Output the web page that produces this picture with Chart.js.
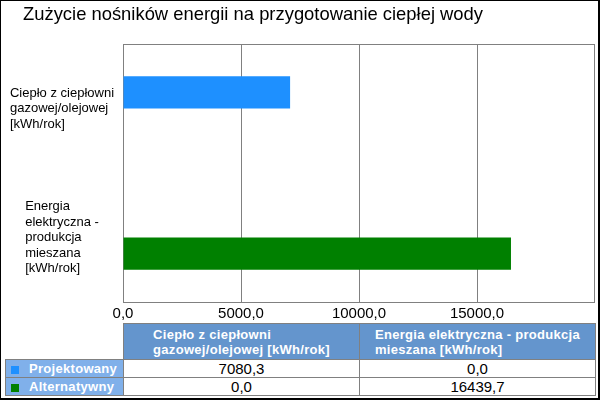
<!DOCTYPE html>
<html>
<head>
<meta charset="utf-8">
<script src="https://cdn.jsdelivr.net/npm/chart.js@4/dist/chart.umd.min.js"></script>
<style>
  html, body { margin: 0; padding: 0; background: #fff; }
  #wrap { position: relative; width: 600px; height: 400px; overflow: hidden; }
  #chartBox { position: absolute; left: 0; top: 0; width: 600px; height: 322px; }
  #frame { position: absolute; left: 0; top: 0; width: 600px; height: 400px; box-sizing: border-box;
           border-style: solid; border-color: #000; border-width: 1px 2px 2px 1px; pointer-events: none; }
  #dataTable { position: absolute; left: 5px; top: 323px; border-collapse: collapse; table-layout: fixed; }
  #dataTable td, #dataTable th { border: 1px solid #808080; padding: 0; }
  #dataTable th { background: #6495cd; color: #fff; font: bold 13px "Liberation Sans", Arial, sans-serif;
                  letter-spacing: 0.3px; height: 35px; line-height: 15px; text-align: center; }
  #dataTable th span { display: inline-block; text-align: left; }
  #dataTable th.empty { background: #fff; border: none; }
  #dataTable td { height: 17px; text-align: center; font: 15px "Liberation Sans Narrow", "Liberation Sans", sans-serif; line-height: 17px; }
  #dataTable td.rowHead { background: #80b0ea; color: #fff; text-align: left; font: bold 13px "Liberation Sans", Arial, sans-serif;
                          letter-spacing: 0.3px; padding-left: 5px; }
  .swatch { display: inline-block; width: 8px; height: 8px; margin-right: 10px; vertical-align: -1px; }
</style>
</head>
<body>
<div id="wrap">
  <div id="chartBox"><canvas id="energyChart"></canvas></div>
  <table id="dataTable"></table>
  <div id="frame"></div>
</div>
<script>
// dane
const chartTitle = 'Zużycie nośników energii na przygotowanie ciepłej wody';
const categories = ['Ciepło z ciepłowni gazowej/olejowej [kWh/rok]', 'Energia elektryczna - produkcja mieszana [kWh/rok]'];
const seriesNames = ['Projektowany', 'Alternatywny'];
const projektowany = [7080.3, 0.0];
const alternatywny = [0.0, 16439.7];
const seriesColors = ['#1e90ff', '#008000'];
const xTickValues = [0, 5000, 10000, 15000];
const xMax = 20000;

const fmt = v => v.toFixed(1).replace('.', ',');

// zawijanie tekstu po słowach
function wrapText(ctx, text, maxWidth) {
    const words = text.split(' ');
    const lines = [];
    let line = '';
    words.forEach(w => {
        const test = line ? line + ' ' + w : w;
        if (line && ctx.measureText(test).width > maxWidth) {
            lines.push(line);
            line = w;
        } else {
            line = test;
        }
    });
    if (line) lines.push(line);
    return lines;
}

// ramka obszaru wykresu
const plotFrame = {
    id: 'plotFrame',
    beforeDatasetsDraw(chart) {
        const { ctx, chartArea: a } = chart;
        ctx.save();
        ctx.strokeStyle = '#808080';
        ctx.lineWidth = 1;
        ctx.strokeRect(a.left + 0.5, a.top + 0.5, a.right - a.left - 1, a.bottom - a.top);
        ctx.restore();
    }
};

// etykiety osi Y: blok wyśrodkowany, linie wyrównane do lewej
const categoryLabels = {
    id: 'categoryLabels',
    afterDraw(chart) {
        const { ctx } = chart;
        const yScale = chart.scales.y;
        const lineH = 15.5;
        ctx.save();
        ctx.font = '13px "Liberation Sans", Arial, sans-serif';
        ctx.fillStyle = '#000';
        ctx.textBaseline = 'middle';
        ctx.textAlign = 'left';
        categories.forEach((cat, i) => {
            const lines = wrapText(ctx, cat, 108);
            const w = Math.max(...lines.map(l => ctx.measureText(l).width));
            const x = 62 - w / 2;
            const yc = yScale.getPixelForValue(i);
            const y0 = yc - (lines.length - 1) * lineH / 2;
            lines.forEach((l, k) => ctx.fillText(l, x, y0 + k * lineH));
        });
        ctx.restore();
    }
};

const ctx = document.getElementById('energyChart').getContext('2d');
const energyChart = new Chart(ctx, {
    type: 'bar',
    data: {
        labels: categories,
        datasets: [{
            label: seriesNames[0],
            data: projektowany,
            backgroundColor: seriesColors[0],
            borderWidth: 0
        }, {
            label: seriesNames[1],
            data: alternatywny,
            backgroundColor: seriesColors[1],
            borderWidth: 0
        }]
    },
    options: {
        indexAxis: 'y',
        responsive: true,
        maintainAspectRatio: false,
        animation: false,
        categoryPercentage: 0.5,
        barPercentage: 1.0,
        layout: { padding: { left: 23, right: 5, top: 0, bottom: 0 } },
        plugins: {
            legend: { display: false },
            tooltip: { enabled: false },
            title: {
                display: true,
                text: chartTitle,
                align: 'start',
                color: '#000',
                font: { family: '"Liberation Sans", Arial, sans-serif', size: 18.4, weight: 'normal', lineHeight: 1.2 },
                padding: { top: 4, bottom: 17.92 }
            }
        },
        scales: {
            x: {
                min: 0,
                max: xMax,
                afterBuildTicks: s => { s.ticks = xTickValues.map(v => ({ value: v })); },
                afterFit: s => { s.height = 20; },
                grid: { color: '#808080', drawTicks: false },
                border: { display: false },
                ticks: {
                    color: '#000',
                    padding: 3,
                    maxRotation: 0,
                    font: { family: '"Liberation Sans Narrow", "Liberation Sans", sans-serif', size: 15 },
                    callback: v => fmt(v)
                }
            },
            y: {
                afterFit: s => { s.width = 100; },
                grid: { display: false },
                border: { display: false },
                ticks: { display: false }
            }
        }
    },
    plugins: [plotFrame, categoryLabels]
});

// tabela danych
const mctx = document.createElement('canvas').getContext('2d');
mctx.font = 'bold 13px "Liberation Sans", Arial, sans-serif';
const table = document.getElementById('dataTable');
let html = '<colgroup><col style="width:118px"><col style="width:236px"><col style="width:236px"></colgroup>';
html += '<tr><th class="empty"></th>' + categories.map(c => '<th><span>' + wrapText(mctx, c, 212).join('<br>') + '</span></th>').join('') + '</tr>';
[projektowany, alternatywny].forEach((vals, i) => {
    html += '<tr><td class="rowHead"><span class="swatch" style="background:' + seriesColors[i] + '"></span>' + seriesNames[i] + '</td>';
    html += vals.map(v => '<td>' + fmt(v) + '</td>').join('') + '</tr>';
});
table.innerHTML = html;
</script>
</body>
</html>
